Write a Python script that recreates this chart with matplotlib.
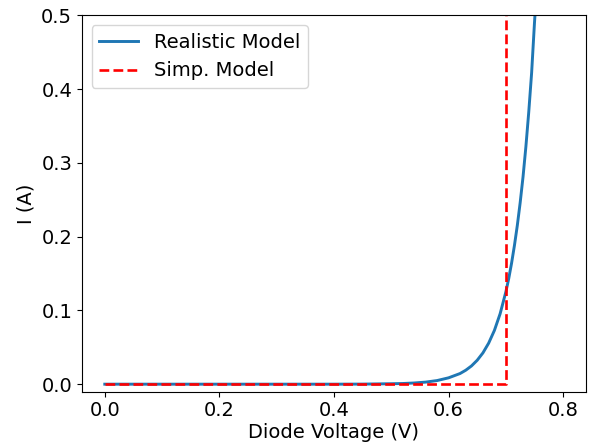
import matplotlib
matplotlib.use("Agg")
import matplotlib.pyplot as plt

# Realistic model
v_real = [0.0, 0.1, 0.2, 0.3, 0.4, 0.45, 0.50, 0.52, 0.54, 0.56, 0.58, 0.60,
          0.62, 0.63, 0.64, 0.65, 0.66, 0.67, 0.68, 0.69, 0.70, 0.705, 0.71,
          0.715, 0.72, 0.725, 0.73, 0.735, 0.74, 0.745, 0.75, 0.755, 0.76]
i_real = [0.0, 0.0, 0.0, 0.0, 0.0, 0.0001, 0.0006, 0.0009, 0.0016, 0.0028,
          0.0049, 0.0086, 0.0144, 0.0189, 0.0247, 0.0324, 0.0424, 0.0556,
          0.0728, 0.0954, 0.125, 0.143, 0.164, 0.188, 0.215, 0.246, 0.281,
          0.322, 0.369, 0.422, 0.49, 0.55, 0.633]

# Simplified model
v_simp = [0.0, 0.7, 0.7]
i_simp = [0.0, 0.0, 1.0]

fig = plt.figure(figsize=(5.89, 4.48), dpi=100)
ax = fig.add_axes([0.139, 0.126, 0.856, 0.840])

ax.plot(v_real, i_real, color="#1f77b4", lw=2.1, label="Realistic Model")
ax.plot(v_simp, i_simp, color="red", ls="--", lw=1.9, label="Simp. Model")

ax.set_xlim(-0.04, 0.84)
ax.set_ylim(-0.01, 0.5)
ax.set_xticks([0.0, 0.2, 0.4, 0.6, 0.8])
ax.set_yticks([0.0, 0.1, 0.2, 0.3, 0.4, 0.5])
ax.tick_params(labelsize=14)
ax.set_xlabel("Diode Voltage (V)", fontsize=14, labelpad=2)
ax.set_ylabel("I (A)", fontsize=14)
ax.legend(loc="upper left", fontsize=14)

fig.savefig("out.png", dpi=100)
